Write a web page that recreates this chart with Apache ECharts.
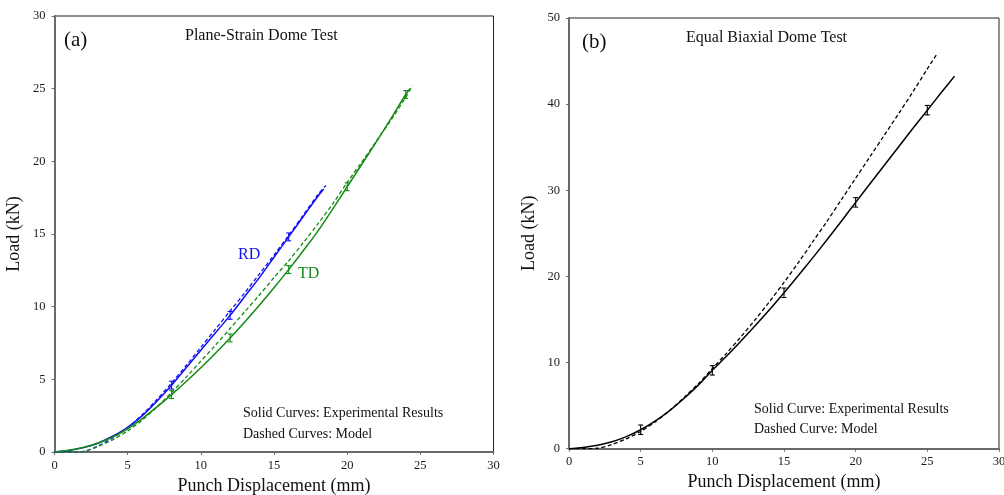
<!DOCTYPE html>
<html>
<head>
<meta charset="utf-8">
<script src="https://cdn.jsdelivr.net/npm/echarts@6/dist/echarts.min.js"></script>
<style>
  html, body { margin: 0; padding: 0; background: #fff; }
  #chart { width: 1004px; height: 495px; }
</style>
</head>
<body>
<div id="chart"></div>
<script>
// Punch displacement (mm) vs load (kN) for the two dome tests.

// (a) Plane-strain dome test: RD and TD, experiment and model
const rdExp = [[0,0],[1,0.1],[2,0.3],[3,0.62],[4,1.1],[5,1.7],[6,2.5],[7,3.5],[8,4.6],[9,5.8],[10,7.0],[11,8.2],[12,9.4],[13,10.7],[14,12.0],[15,13.4],[16,14.8],[17,16.2],[18,17.6],[18.4,18.1]];
const rdModel = [[0,0],[1,0],[2,0.05],[3,0.42],[4,0.98],[5,1.68],[6,2.57],[7,3.62],[8,4.75],[9,5.95],[10,7.2],[11,8.45],[12,9.7],[13,10.95],[14,12.25],[15,13.55],[16,14.9],[17,16.3],[18,17.7],[18.55,18.35]];
const tdExp = [[0,0],[1,0.12],[2,0.32],[3,0.62],[4,1.05],[5,1.6],[6,2.3],[7,3.1],[8,3.95],[9,4.85],[10,5.8],[11,6.8],[12,7.85],[13,8.95],[14,10.1],[15,11.3],[16,12.55],[17,13.85],[18,15.2],[19,16.7],[20,18.25],[21,19.8],[22,21.35],[23,22.95],[24,24.6],[24.3,25.0]];
const tdModel = [[0,0],[1,0],[2,0.05],[3,0.4],[4,0.85],[5,1.45],[6,2.2],[7,3.1],[8,4.1],[9,5.15],[10,6.25],[11,7.35],[12,8.5],[13,9.65],[14,10.8],[15,12.0],[16,13.15],[17,14.4],[18,15.7],[19,17.05],[20,18.55],[21,19.95],[22,21.4],[23,22.85],[24,24.4],[24.45,25.2]];
const rdBarX = [8, 12, 16];
const tdBarX = [8, 12, 16, 20, 24];
const barHalfA = 0.27;

// (b) Equal biaxial dome test: experiment and model
const biExp = [[0,0],[1,0.15],[2,0.4],[3,0.8],[4,1.4],[5,2.2],[6,3.2],[7,4.4],[8,5.8],[9,7.35],[10,9.1],[11,10.75],[12,12.5],[13,14.3],[14,16.15],[15,18.1],[16,20.1],[17,22.15],[18,24.25],[19,26.4],[20,28.6],[21,30.75],[22,32.9],[23,35.05],[24,37.2],[25,39.3],[26,41.4],[26.9,43.25]];
const biModel = [[0,0],[1,0],[2,0.05],[3,0.5],[4,1.15],[5,2.0],[6,3.1],[7,4.4],[8,5.9],[9,7.5],[10,9.3],[11,11.1],[12,13.0],[13,15.0],[14,17.1],[15,19.3],[16,21.6],[17,24.0],[18,26.4],[19,28.9],[20,31.4],[21,33.9],[22,36.4],[23,38.9],[24,41.45],[25,44.1],[25.7,45.9]];
const biBarX = [5, 10, 15, 20, 25];
const barHalfB = 0.55;

// Tick labels
const xTicks = [0, 5, 10, 15, 20, 25, 30];
const yTicksA = [0, 5, 10, 15, 20, 25, 30];
const yTicksB = [0, 10, 20, 30, 40, 50];

const FONT = 'Liberation Serif';
const BLUE = '#1010f0';
const GREEN = '#138a13';
const BLACK = '#000000';

// centre of an error bar taken from the experimental curve at x
function curveAt(curve, x) {
  for (let i = 1; i < curve.length; i++) {
    const a = curve[i - 1], b = curve[i];
    if (x >= a[0] && x <= b[0]) {
      const t = (x - a[0]) / (b[0] - a[0]);
      return a[1] + t * (b[1] - a[1]);
    }
  }
  return curve[curve.length - 1][1];
}
function bars(curve, xs, half) {
  return xs.map(x => [x, curveAt(curve, x), half]);
}

function errorBarSeries(idx, data, color) {
  return {
    type: 'custom',
    xAxisIndex: idx, yAxisIndex: idx,
    data: data,
    z: 5,
    renderItem: function (params, api) {
      const x = api.value(0), y = api.value(1), e = api.value(2);
      const top = api.coord([x, y + e]);
      const bot = api.coord([x, y - e]);
      const cap = 2.5;
      const style = { stroke: color, lineWidth: 1.1 };
      return {
        type: 'group',
        children: [
          { type: 'line', shape: { x1: top[0], y1: top[1], x2: bot[0], y2: bot[1] }, style: style },
          { type: 'line', shape: { x1: top[0] - cap, y1: top[1], x2: top[0] + cap, y2: top[1] }, style: style },
          { type: 'line', shape: { x1: bot[0] - cap, y1: bot[1], x2: bot[0] + cap, y2: bot[1] }, style: style }
        ]
      };
    }
  };
}

function lineSeries(idx, data, color, dashed) {
  return {
    type: 'line',
    xAxisIndex: idx, yAxisIndex: idx,
    data: data,
    smooth: 0.3,
    showSymbol: false,
    silent: true,
    lineStyle: { color: color, width: dashed ? 1.3 : 1.5, type: dashed ? [4, 2.5] : 'solid' },
    z: dashed ? 3 : 4
  };
}

function xAxis(idx) {
  return {
    type: 'value', gridIndex: idx, min: 0, max: 30, interval: 5,
    name: 'Punch Displacement (mm)', nameLocation: 'middle', nameGap: 25,
    nameTextStyle: { fontFamily: FONT, fontSize: 18, color: '#111' },
    axisLine: { show: true, onZero: false, lineStyle: { color: '#6a6a6a', width: 2 } },
    axisTick: { show: true, length: 3, lineStyle: { color: '#6a6a6a' } },
    axisLabel: { fontFamily: FONT, fontSize: 12.5, color: '#1a1a1a', margin: 7,
      formatter: v => xTicks.includes(v) ? String(v) : '' },
    splitLine: { show: false }
  };
}
function yAxis(idx, max, interval, ticks, gap) {
  return {
    type: 'value', gridIndex: idx, min: 0, max: max, interval: interval,
    name: 'Load (kN)', nameLocation: 'middle', nameGap: gap,
    nameTextStyle: { fontFamily: FONT, fontSize: 18, color: '#111' },
    axisLine: { show: true, onZero: false, lineStyle: { color: '#6a6a6a', width: 2 } },
    axisTick: { show: true, length: 3, lineStyle: { color: '#6a6a6a' } },
    axisLabel: { fontFamily: FONT, fontSize: 12.5, color: '#1a1a1a', margin: 9,
      formatter: v => ticks.includes(v) ? String(v) : '' },
    splitLine: { show: false }
  };
}

function text(x, y, str, size, color, align) {
  return {
    type: 'text', left: x, top: y, silent: true,
    style: { text: str, fontFamily: FONT, fontSize: size, fill: color || '#111', textAlign: align || 'left' }
  };
}

const chart = echarts.init(document.getElementById('chart'), null, { renderer: 'canvas' });
chart.setOption({
  animation: false,
  backgroundColor: '#fff',
  grid: [
    { left: 54.5, top: 16, width: 439, height: 436, outerBoundsMode: 'none', containLabel: false,
      show: true, borderColor: '#222', borderWidth: 1, backgroundColor: 'transparent' },
    { left: 569, top: 18, width: 430, height: 430.7, outerBoundsMode: 'none', containLabel: false,
      show: true, borderColor: '#222', borderWidth: 1, backgroundColor: 'transparent' }
  ],
  xAxis: [xAxis(0), xAxis(1)],
  yAxis: [yAxis(0, 30, 5, yTicksA, 31), yAxis(1, 50, 10, yTicksB, 31)],
  series: [
    lineSeries(0, rdModel, BLUE, true),
    lineSeries(0, rdExp, BLUE, false),
    lineSeries(0, tdModel, GREEN, true),
    lineSeries(0, tdExp, GREEN, false),
    errorBarSeries(0, bars(rdExp, rdBarX, barHalfA), BLUE),
    errorBarSeries(0, bars(tdExp, tdBarX, barHalfA), GREEN),
    lineSeries(1, biModel, BLACK, true),
    lineSeries(1, biExp, BLACK, false),
    errorBarSeries(1, bars(biExp, biBarX, barHalfB), BLACK)
  ],
  graphic: [
    text(64, 30, '(a)', 21),
    text(185, 28, 'Plane-Strain Dome Test', 16),
    text(238, 247, 'RD', 16, BLUE),
    text(298, 266, 'TD', 16, GREEN),
    text(243, 406, 'Solid Curves: Experimental Results', 14),
    text(243, 427, 'Dashed Curves: Model', 14),
    text(582, 32, '(b)', 21),
    text(686, 30, 'Equal Biaxial Dome Test', 16),
    text(754, 402, 'Solid Curve: Experimental Results', 14),
    text(754, 422, 'Dashed Curve: Model', 14)
  ]
});
</script>
</body>
</html>
